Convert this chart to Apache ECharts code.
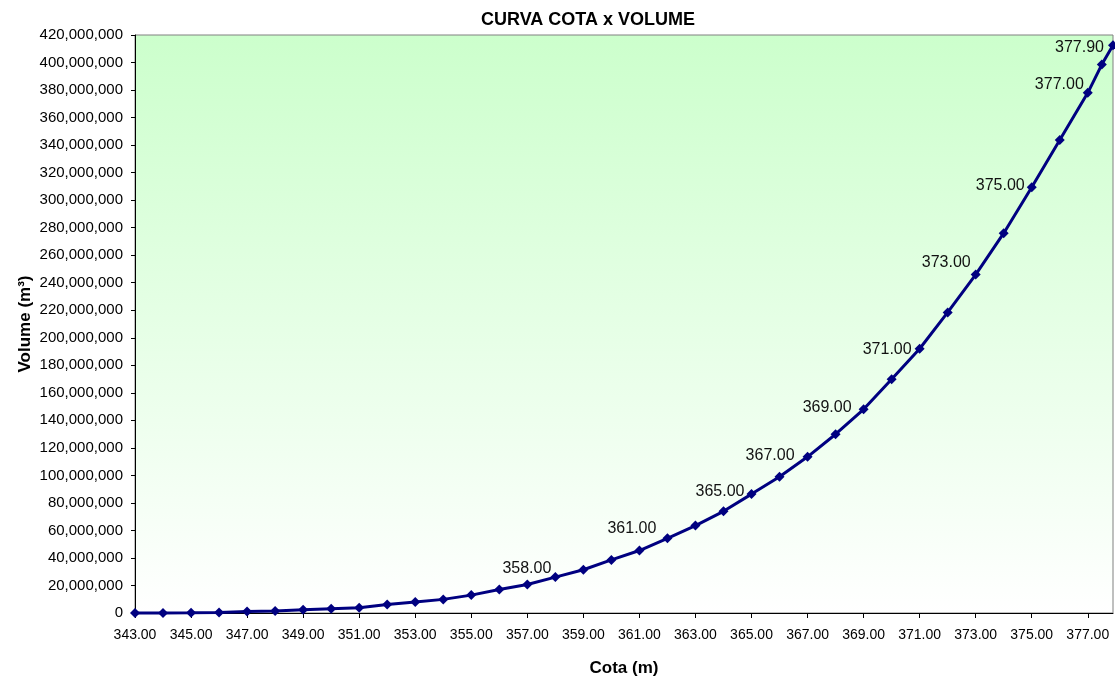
<!DOCTYPE html>
<html>
<head>
<meta charset="utf-8">
<script src="https://cdn.jsdelivr.net/npm/echarts@6/dist/echarts.min.js"></script>
<style>
html,body{margin:0;padding:0;background:#fff;}
#chart{width:1115px;height:682px;}
</style>
</head>
<body>
<div id="chart"></div>
<script>
// ---- data ----
const cota = [343,344,345,346,347,348,349,350,351,352,353,354,355,356,357,358,359,360,361,362,363,364,365,366,367,368,369,370,371,372,373,374,375,376,377,377.5,377.9];
const volume = [0,50000,150000,400000,1100000,1500000,2400000,3100000,3800000,6200000,8000000,9900000,13000000,17100000,20700000,26100000,31400000,38600000,45400000,54300000,63500000,73900000,86400000,99000000,113500000,129900000,148000000,169800000,192000000,218400000,245900000,276000000,309400000,343700000,378000000,398500000,412500000];
const labeledCota = [358,361,365,367,369,371,373,375,377,377.9];
const xTickValues = [343,345,347,349,351,353,355,357,359,361,363,365,367,369,371,373,375,377];
const titleText = 'CURVA COTA x VOLUME';
const xName = 'Cota (m)';
const yName = 'Volume (m³)';

// label placement tweaks (style, not data)
const labelOffsets = {358:[1,-8],361:[22,-22],365:[-2,-3],367:[-8,-1],369:[-7,-2],371:[-3,1],373:[0,-12],375:[-2,-2],377:[1,-8],377.9:[-4,2]};

const seriesData = cota.map((c,i)=>{
  const d = {value:[c, volume[i]]};
  if (labeledCota.includes(c)) {
    d.label = {show:true, offset: labelOffsets[c] || [0,0]};
  }
  return d;
});

const chart = echarts.init(document.getElementById('chart'), null, {renderer:'canvas'});
const FONT = 'Liberation Sans, Arial, sans-serif';
chart.setOption({
  animation:false,
  backgroundColor:'#ffffff',
  title:{
    text:titleText, left:476, top:6,
    textStyle:{fontFamily:FONT, fontSize:18, fontWeight:'bold', color:'#000'}
  },
  grid:{
    left:135, right:2, top:35, bottom:68,
    show:true, borderColor:'#808080', borderWidth:1,
    backgroundColor:new echarts.graphic.LinearGradient(0,0,0,1,[
      {offset:0,color:'#ccffcc'},{offset:1,color:'#ffffff'}
    ])
  },
  xAxis:{
    type:'value', min:343, max:377.9,
    name:xName, nameLocation:'middle', nameGap:47, nameMoveOverlap:false,
    nameTextStyle:{fontFamily:FONT, fontSize:17, fontWeight:'bold', color:'#000'},
    axisLine:{show:true, onZero:false, lineStyle:{color:'#000', width:1}},
    axisTick:{show:true, length:5, lineStyle:{color:'#000'}, customValues:xTickValues},
    axisLabel:{fontFamily:FONT, fontSize:14, color:'#000', margin:15,
      customValues:xTickValues, formatter:v=>Number(v).toFixed(2)},
    splitLine:{show:false}
  },
  yAxis:{
    type:'value', min:0, max:420000000, interval:20000000,
    name:yName, nameLocation:'middle', nameGap:101, nameRotate:90, nameMoveOverlap:false,
    nameTextStyle:{fontFamily:FONT, fontSize:17, fontWeight:'bold', color:'#000'},
    axisLine:{show:true, lineStyle:{color:'#000', width:1}},
    axisTick:{show:true, length:4, lineStyle:{color:'#000'}},
    axisLabel:{fontFamily:FONT, fontSize:15, color:'#000', margin:12,
      formatter:v=>Number(v).toLocaleString('en-US')},
    splitLine:{show:false}
  },
  series:[{
    type:'line',
    data:seriesData,
    smooth:false,
    symbol:'diamond', symbolSize:10,
    lineStyle:{color:'#000080', width:3},
    itemStyle:{color:'#000080'},
    label:{show:false, position:'left', distance:0,
      fontFamily:FONT, fontSize:16, color:'#111',
      formatter:p=>Number(p.value[0]).toFixed(2)},
    clip:false
  }]
});
</script>
</body>
</html>
